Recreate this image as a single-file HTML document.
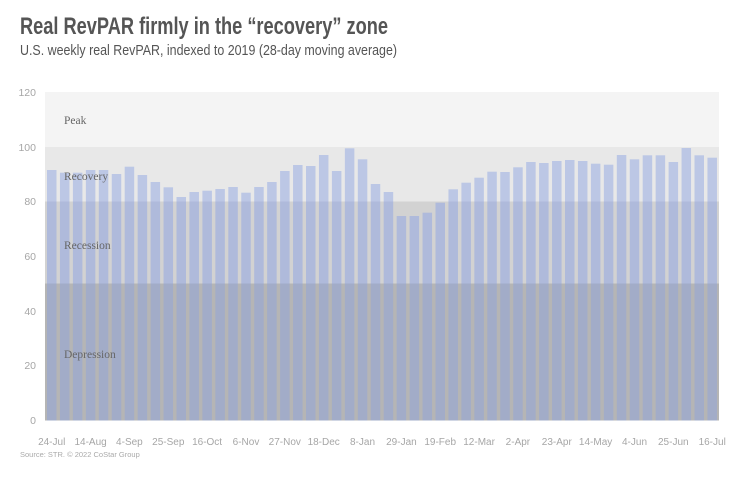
<!DOCTYPE html>
<html><head><meta charset="utf-8"><style>
html,body{margin:0;padding:0;background:#fff;}
svg{display:block;}
</style></head><body>
<svg id="s" width="739" height="502" viewBox="0 0 739 502" xmlns="http://www.w3.org/2000/svg">
<rect width="739" height="502" fill="#fff"/>
<text x="20" y="34" font-family="'Liberation Sans Narrow','Liberation Sans',sans-serif" font-weight="bold" font-size="24" fill="#555" textLength="368" lengthAdjust="spacingAndGlyphs">Real RevPAR firmly in the “recovery” zone</text>
<text x="20" y="55" font-family="'Liberation Sans Narrow','Liberation Sans',sans-serif" font-size="14.5" fill="#555" textLength="377" lengthAdjust="spacingAndGlyphs">U.S. weekly real RevPAR, indexed to 2019 (28-day moving average)</text>
<defs>
<clipPath id="cRec"><rect x="0" y="147" width="739" height="54.5"/></clipPath>
<clipPath id="cRes"><rect x="0" y="201.5" width="739" height="82"/></clipPath>
<clipPath id="cDep"><rect x="0" y="283.5" width="739" height="137"/></clipPath>
</defs>
<rect x="45" y="92" width="674" height="55" fill="#f4f4f4"/>
<rect x="45" y="147" width="674" height="54.5" fill="#e8e8e8"/>
<rect x="45" y="201.5" width="674" height="82" fill="#d2d2d2"/>
<rect x="45" y="283.5" width="674" height="137" fill="#b5b5b5"/>
<g id="bRec" clip-path="url(#cRec)" fill="#bcc7e5"></g>
<g id="bRes" clip-path="url(#cRes)" fill="#afbadb"></g>
<g id="bDep" clip-path="url(#cDep)" fill="#a2acc8"></g>
<g font-family="'Liberation Serif',serif" font-size="11.5" fill="#666">
<text x="64" y="124">Peak</text>
<text x="64" y="180">Recovery</text>
<text x="64" y="249">Recession</text>
<text x="64" y="358">Depression</text>
</g>
<g font-family="'Liberation Sans',sans-serif" font-size="10.5" fill="#a6a6a6" text-anchor="end">
<text x="36" y="96">120</text>
<text x="36" y="151">100</text>
<text x="36" y="205">80</text>
<text x="36" y="260">60</text>
<text x="36" y="315">40</text>
<text x="36" y="369">20</text>
<text x="36" y="424">0</text>
</g>
<g id="xl" font-family="'Liberation Sans',sans-serif" font-size="10" fill="#a6a6a6" text-anchor="middle">
<text x="51.7" y="445">24-Jul</text>
<text x="90.6" y="445">14-Aug</text>
<text x="129.4" y="445">4-Sep</text>
<text x="168.3" y="445">25-Sep</text>
<text x="207.1" y="445">16-Oct</text>
<text x="246" y="445">6-Nov</text>
<text x="284.8" y="445">27-Nov</text>
<text x="323.7" y="445">18-Dec</text>
<text x="362.5" y="445">8-Jan</text>
<text x="401.4" y="445">29-Jan</text>
<text x="440.2" y="445">19-Feb</text>
<text x="479.1" y="445">12-Mar</text>
<text x="517.9" y="445">2-Apr</text>
<text x="556.8" y="445">23-Apr</text>
<text x="595.6" y="445">14-May</text>
<text x="634.5" y="445">4-Jun</text>
<text x="673.3" y="445">25-Jun</text>
<text x="712.2" y="445">16-Jul</text>
</g>
<text x="20" y="457" font-family="'Liberation Sans',sans-serif" font-size="7.5" fill="#aaa">Source: STR. © 2022 CoStar Group</text>
</svg>
<script>
var tops=[170,172.7,172.7,170,170,174,166.7,175,182,187.3,197,192,190.7,189,187,192.7,187,182,171,165,166,155,171,148.3,159.3,184,192,216,216,212.7,202.7,189.3,182.7,177.7,171.7,172,167.3,162,163,161,160,161,163.7,164.7,155,159.3,155.3,155.3,162,148,155.3,157.7];
var ns="http://www.w3.org/2000/svg";
["bRec","bRes","bDep"].forEach(function(id){
 var g=document.getElementById(id);
 tops.forEach(function(t,i){
  var r=document.createElementNS(ns,"rect");
  r.setAttribute("x",(47+12.95*i).toFixed(2));
  r.setAttribute("y",t);
  r.setAttribute("width","9.5");
  r.setAttribute("height",(420.5-t).toFixed(2));
  g.appendChild(r);
 });
});
</script>
</body></html>
